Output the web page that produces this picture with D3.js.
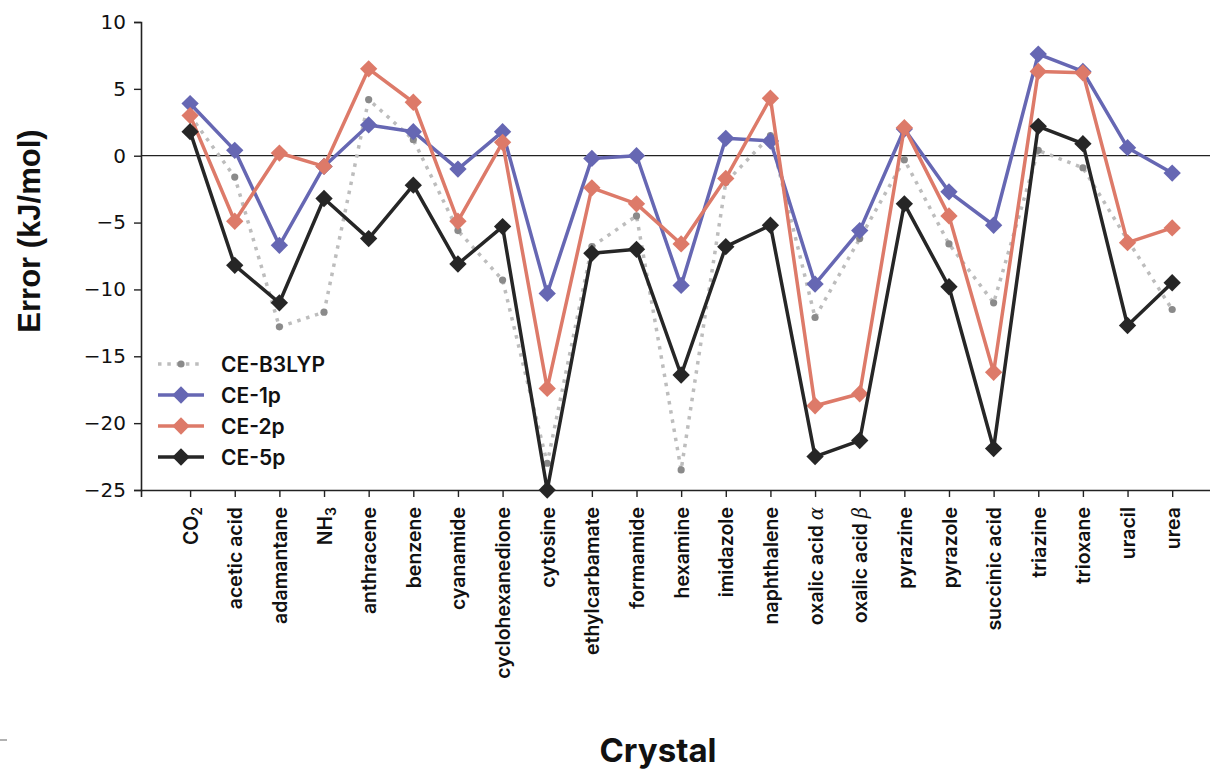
<!DOCTYPE html>
<html>
<head>
<meta charset="utf-8">
<script src="https://cdn.jsdelivr.net/npm/d3@7"></script>
<style>
  html, body { margin: 0; padding: 0; background: #fff; }
  svg { display: block; }
</style>
</head>
<body>
<script>
// crystals along x (sub = subscript, greek = italic greek suffix)
const crystals = [
  { name: "CO", sub: "2" }, { name: "acetic acid" }, { name: "adamantane" },
  { name: "NH", sub: "3" }, { name: "anthracene" }, { name: "benzene" },
  { name: "cyanamide" }, { name: "cyclohexanedione" }, { name: "cytosine" },
  { name: "ethylcarbamate" }, { name: "formamide" }, { name: "hexamine" },
  { name: "imidazole" }, { name: "naphthalene" }, { name: "oxalic acid ", greek: "α" },
  { name: "oxalic acid ", greek: "β" }, { name: "pyrazine" }, { name: "pyrazole" },
  { name: "succinic acid" }, { name: "triazine" }, { name: "trioxane" },
  { name: "uracil" }, { name: "urea" }
];

// errors in kJ/mol
const ceB3LYP = [3.0, -1.6, -12.8, -11.7, 4.2, 1.2, -5.6, -9.3, -23.0, -6.8, -4.5, -23.5,
  -2.0, 1.5, -12.1, -6.2, -0.3, -6.6, -11.0, 0.4, -0.9, -6.3, -11.5];
const ce1p = [3.9, 0.4, -6.7, -0.8, 2.3, 1.8, -1.0, 1.8, -10.3, -0.2, 0.0, -9.7,
  1.3, 1.1, -9.6, -5.6, 2.0, -2.7, -5.2, 7.6, 6.3, 0.6, -1.3];
const ce2p = [3.0, -4.9, 0.2, -0.8, 6.5, 4.0, -4.9, 1.0, -17.4, -2.4, -3.6, -6.6,
  -1.7, 4.3, -18.7, -17.8, 2.1, -4.5, -16.2, 6.3, 6.2, -6.5, -5.4];
const ce5p = [1.8, -8.2, -11.0, -3.2, -6.2, -2.2, -8.1, -5.3, -25.0, -7.3, -7.0, -16.4,
  -6.8, -5.2, -22.5, -21.3, -3.6, -9.8, -21.9, 2.2, 0.9, -12.7, -9.5];

const yTicks = [10, 5, 0, -5, -10, -15, -20, -25];

const series = [
  { label: "CE-B3LYP", values: ceB3LYP, color: "#bdbdbd", marker: "circle" },
  { label: "CE-1p", values: ce1p, color: "#6667b3", marker: "diamond" },
  { label: "CE-2p", values: ce2p, color: "#dd7a69", marker: "diamond" },
  { label: "CE-5p", values: ce5p, color: "#262626", marker: "diamond" }
];

const width = 1210, height = 769;
const plotLeft = 141, plotTop = 22, plotBottom = 490;
const step = 44.64;

const svg = d3.select("body").append("svg")
  .attr("width", width)
  .attr("height", height);

const x = d3.scaleLinear()
  .domain([-1.1, crystals.length - 1 + 1.1])
  .range([plotLeft, plotLeft + (crystals.length + 1.2) * step]);

const y = d3.scaleLinear()
  .domain([-25, 10])
  .range([plotBottom, plotTop]);

// zero line
svg.append("line")
  .attr("x1", plotLeft).attr("x2", width)
  .attr("y1", y(0)).attr("y2", y(0))
  .attr("stroke", "#222").attr("stroke-width", 1.3);

// y axis
const yAxis = svg.append("g")
  .attr("transform", `translate(${plotLeft},0)`)
  .call(d3.axisLeft(y).tickValues(yTicks).tickSize(7).tickPadding(8)
    .tickFormat(d => d < 0 ? "\u2212" + Math.abs(d) : d));
yAxis.select(".domain").attr("stroke", "#222").attr("stroke-width", 1.6);
yAxis.selectAll(".tick line").attr("stroke", "#222").attr("stroke-width", 1.4);
yAxis.selectAll(".tick text")
  .attr("font-family", "DejaVu Sans").attr("font-size", 20).attr("fill", "#111");

// x axis
const xAxis = svg.append("g")
  .attr("transform", `translate(0,${plotBottom})`)
  .call(d3.axisBottom(x).tickValues(d3.range(crystals.length)).tickSize(7).tickFormat(""));
xAxis.select(".domain").attr("stroke", "#222").attr("stroke-width", 1.6);
xAxis.selectAll(".tick line").attr("stroke", "#222").attr("stroke-width", 1.4);

xAxis.selectAll(".tick").each(function (d) {
  const c = crystals[d];
  const t = d3.select(this).append("text")
    .attr("transform", "rotate(-90)")
    .attr("x", -17)
    .attr("dy", "0.36em")
    .attr("text-anchor", "end")
    .attr("font-family", "Inter")
    .attr("font-weight", 600)
    .attr("font-size", 19.5)
    .attr("fill", "#111");
  t.append("tspan").text(c.name);
  if (c.sub) {
    t.append("tspan").attr("dy", "0.3em").attr("font-size", 14).text(c.sub);
  }
  if (c.greek) {
    t.append("tspan").attr("font-family", "DejaVu Serif").attr("font-style", "italic")
      .attr("font-weight", 400).text(c.greek);
  }
});

// series
const line = d3.line().x((d, i) => x(i)).y(d => y(d));
const diamond = d3.symbol().type(d3.symbolSquare).size(150);

series.forEach(s => {
  const g = svg.append("g");
  if (s.marker === "circle") {
    g.append("path")
      .datum(s.values)
      .attr("fill", "none")
      .attr("stroke", s.color)
      .attr("stroke-width", 3.5)
      .attr("stroke-dasharray", "3.5,5.8")
      .attr("d", line);
    g.selectAll("circle").data(s.values).join("circle")
      .attr("cx", (d, i) => x(i)).attr("cy", d => y(d))
      .attr("r", 3.6)
      .attr("fill", "#8a8a8a");
  } else {
    g.append("path")
      .datum(s.values)
      .attr("fill", "none")
      .attr("stroke", s.color)
      .attr("stroke-width", 3.5)
      .attr("stroke-linejoin", "round")
      .attr("d", line);
    g.selectAll(".mk").data(s.values).join("path")
      .attr("class", "mk")
      .attr("transform", (d, i) => `translate(${x(i)},${y(d)}) rotate(45)`)
      .attr("d", diamond)
      .attr("fill", s.color);
  }
});

// legend
const legend = svg.append("g").attr("transform", "translate(158,364)");
series.forEach((s, i) => {
  const row = legend.append("g").attr("transform", `translate(0,${i * 31})`);
  if (s.marker === "circle") {
    row.append("line").attr("x1", 0).attr("x2", 46).attr("y1", 0).attr("y2", 0)
      .attr("stroke", s.color).attr("stroke-width", 3.5).attr("stroke-dasharray", "3.5,5.8");
    row.append("circle").attr("cx", 23).attr("cy", 0).attr("r", 3.6).attr("fill", "#8a8a8a");
  } else {
    row.append("line").attr("x1", 0).attr("x2", 46).attr("y1", 0).attr("y2", 0)
      .attr("stroke", s.color).attr("stroke-width", 3.5);
    row.append("path").attr("transform", "translate(23,0) rotate(45)")
      .attr("d", diamond).attr("fill", s.color);
  }
  row.append("text")
    .attr("x", 63).attr("dy", "0.36em")
    .attr("font-family", "Inter").attr("font-weight", 600).attr("font-size", 21)
    .attr("fill", "#111")
    .text(s.label);
});

// axis titles
svg.append("text")
  .attr("transform", "translate(40,231) rotate(-90)")
  .attr("text-anchor", "middle")
  .attr("font-family", "Liberation Sans").attr("font-weight", 700).attr("font-size", 31)
  .attr("fill", "#111")
  .text("Error (kJ/mol)");

svg.append("text")
  .attr("x", 658).attr("y", 762)
  .attr("text-anchor", "middle")
  .attr("font-family", "Inter").attr("font-weight", 700).attr("font-size", 33)
  .attr("fill", "#111")
  .text("Crystal");

// stray mark at bottom-left corner of the original figure
svg.append("line").attr("x1", 0).attr("x2", 7).attr("y1", 740).attr("y2", 740)
  .attr("stroke", "#999").attr("stroke-width", 1.5);
</script>
</body>
</html>
